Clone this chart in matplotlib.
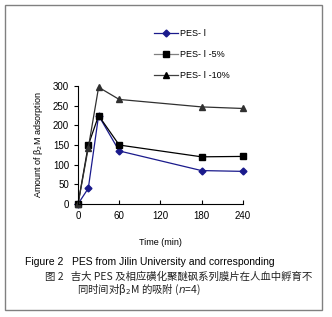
import matplotlib
matplotlib.use("Agg")
import matplotlib.pyplot as plt
from matplotlib.patches import Rectangle

# data
time = [0, 15, 30, 60, 180, 240]
pes = [0, 40, 225, 135, 85, 83]
pes_5 = [0, 150, 225, 150, 120, 121]
pes_10 = [0, 143, 297, 266, 247, 243]
labels = ["PES- \u2160", "PES- \u2160 -5%", "PES- \u2160 -10%"]

plt.rcParams['font.family'] = ['Liberation Sans', 'DejaVu Sans']
cjk = ['Noto Sans CJK SC', 'DejaVu Sans']

fig = plt.figure(figsize=(3.32, 3.17), dpi=100)
ax = fig.add_axes([0.235, 0.3565, 0.496, 0.372])

ax.plot(time, pes, color='#1a1a8c', marker='D', markersize=3.5, lw=0.9, clip_on=False)
ax.plot(time, pes_5, color='black', marker='s', markersize=4, lw=0.9, clip_on=False)
ax.plot(time, pes_10, color='#303030', marker='^', markersize=4.5, lw=0.9, clip_on=False)

ax.set_xlim(0, 240)
ax.set_ylim(0, 300)
ax.set_xticks([0, 60, 120, 180, 240])
ax.set_yticks(range(0, 301, 50))
ax.spines['top'].set_visible(False)
ax.spines['right'].set_visible(False)
for s in ['left', 'bottom']:
    ax.spines[s].set_linewidth(0.8)
ax.tick_params(axis='x', direction='in', length=3, width=0.8, labelsize=7, pad=5)
ax.tick_params(axis='y', direction='out', length=3, width=0.8, labelsize=7)
ax.set_xlabel("Time (min)", fontsize=6.5, labelpad=12)
ax.set_ylabel("Amount of \u03b2$_2$M adsorption", fontsize=6.5, labelpad=6)

# legend with grey handle lines as in the original
h1 = plt.Line2D([], [], color='#1a1a8c', marker='D', markersize=3.5, lw=0.9)
h2 = plt.Line2D([], [], color='#808080', marker='s', markersize=4, lw=0.9, markerfacecolor='black', markeredgecolor='black')
h3 = plt.Line2D([], [], color='#404040', marker='^', markersize=4.5, lw=0.9, markerfacecolor='black', markeredgecolor='black')
fig.legend([h1, h2, h3], labels, loc='upper left', bbox_to_anchor=(0.44, 0.935),
           frameon=False, fontsize=6.5, handlelength=2.6, handletextpad=0.3, labelspacing=1.35)

fig.text(0.075, 1 - 262 / 317, "Figure 2   PES from Jilin University and corresponding",
         fontsize=7.5, va='center', ha='left')
fig.text(0.135, 1 - 277 / 317, "图 2   吉大 PES 及相应磺化聚醚砜系列膜片在人血中孵育不",
         fontsize=7.5, va='center', ha='left', family=cjk, color='#222222')
fig.text(0.232, 1 - 290 / 317, "同时间对\u03b2$_2$M 的吸附 ($\\it{n}$=4)",
         fontsize=7.5, va='center', ha='left', family=cjk, color='#222222')

fig.patches.append(Rectangle((5 / 332, 1 - 310 / 317), 317 / 332, 305 / 317,
                             transform=fig.transFigure, fill=False, edgecolor='#808080', lw=1))

fig.savefig("out.png", dpi=100)
